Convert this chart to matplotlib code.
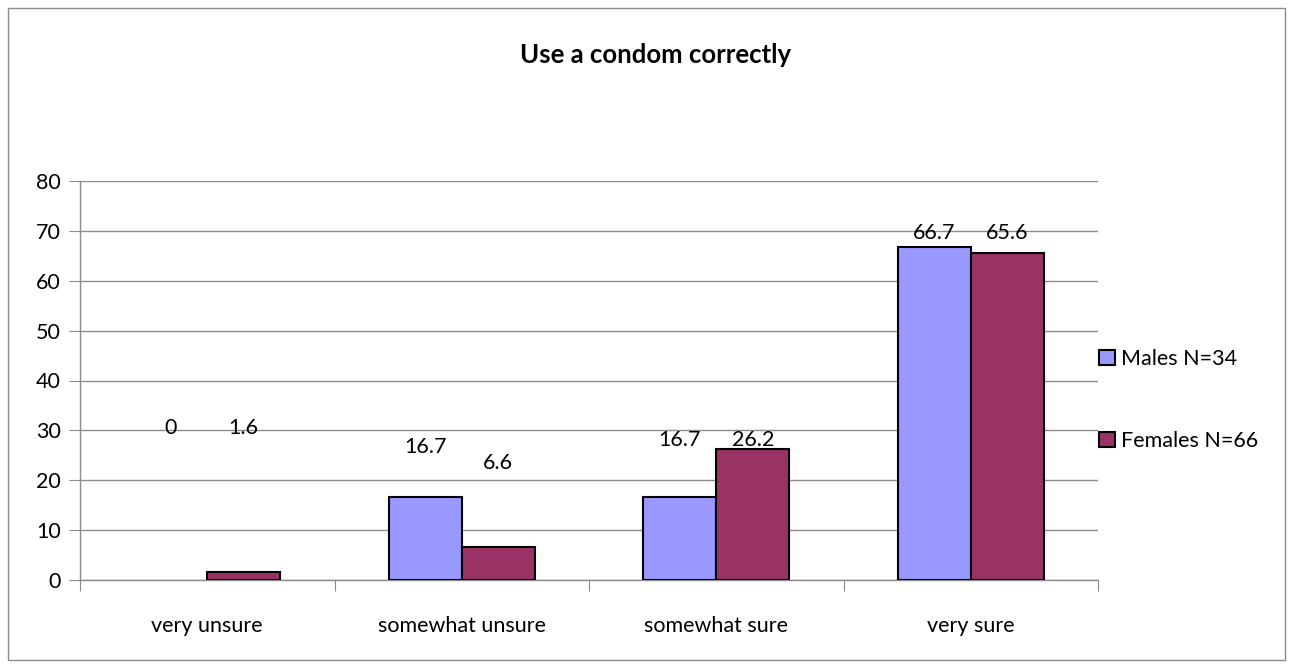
import matplotlib

matplotlib.use("Agg")
import matplotlib.pyplot as plt
import numpy as np
from matplotlib.patches import Rectangle, Patch

plt.rcParams['font.family'] = ['Lato', 'DejaVu Sans']

categories = ["very unsure", "somewhat unsure", "somewhat sure", "very sure"]
males = [0, 16.7, 16.7, 66.7]
females = [1.6, 6.6, 26.2, 65.6]
series_names = ["Males N=34", "Females N=66"]
colors = ['#9999FF', '#993366']
# label heights as placed in the original (data units)
males_label_y = [30.5, 26.7, 28.1, 69.6]
females_label_y = [30.5, 23.5, 28.1, 69.6]

FS = 15.5

fig = plt.figure(figsize=(12.92, 6.66), dpi=100)
fig.patches.append(Rectangle((8 / 1292, 6 / 666), 1277 / 1292, 652 / 666,
                             transform=fig.transFigure, fill=False,
                             edgecolor='#8c8c8c', linewidth=1))
ax = fig.add_axes([80 / 1292, 1 - 580 / 666, 1018 / 1292, 399 / 666])

x = np.arange(len(categories))
w = 0.287
b1 = ax.bar(x - w / 2, males, w, color=colors[0], edgecolor='black', linewidth=1.5, zorder=3)
b2 = ax.bar(x + w / 2, females, w, color=colors[1], edgecolor='black', linewidth=1.5, zorder=3)
# a zero-height bar is not drawn in the original
for bars in (b1, b2):
    for p in bars:
        if p.get_height() == 0:
            p.set_visible(False)

for xi, v, ly in zip(x - w / 2, males, males_label_y):
    ax.text(xi, ly, f"{v:g}", ha='center', va='center', fontsize=FS)
for xi, v, ly in zip(x + w / 2, females, females_label_y):
    ax.text(xi, ly, f"{v:g}", ha='center', va='center', fontsize=FS)

ax.set_xlim(-0.5, len(categories) - 0.5)
ax.set_ylim(0, 80)
ax.set_yticks(np.arange(0, 81, 10))
ax.yaxis.grid(True, color='#8c8c8c', linewidth=1)
ax.set_axisbelow(True)

ax.set_xticks(np.arange(-0.5, len(categories), 1))
ax.set_xticklabels([])
ax.set_xticks(x, minor=True)
ax.set_xticklabels(categories, minor=True, fontsize=FS)
ax.tick_params(axis='x', which='major', length=8, color='#8c8c8c', direction='out')
ax.tick_params(axis='x', which='minor', length=0, pad=26)
ax.tick_params(axis='y', length=8, color='#8c8c8c', labelsize=FS, pad=6)

for s in ['top', 'right']:
    ax.spines[s].set_visible(False)
for s in ['left', 'bottom']:
    ax.spines[s].set_color('#8c8c8c')
    ax.spines[s].set_linewidth(1)

fig.text(656 / 1292, 1 - 55 / 666, "Use a condom correctly", ha='center', va='center',
         fontsize=18.5, fontweight='bold')

handles = [Patch(facecolor=c, edgecolor='black', linewidth=1.5) for c in colors]
ax.legend(handles, series_names, loc='center left', bbox_to_anchor=(0.993, 0.451),
          frameon=False, fontsize=FS, handlelength=0.7, handleheight=0.7,
          handletextpad=0.3, labelspacing=2.85, borderaxespad=0.0)

fig.savefig("out.png", dpi=100)
